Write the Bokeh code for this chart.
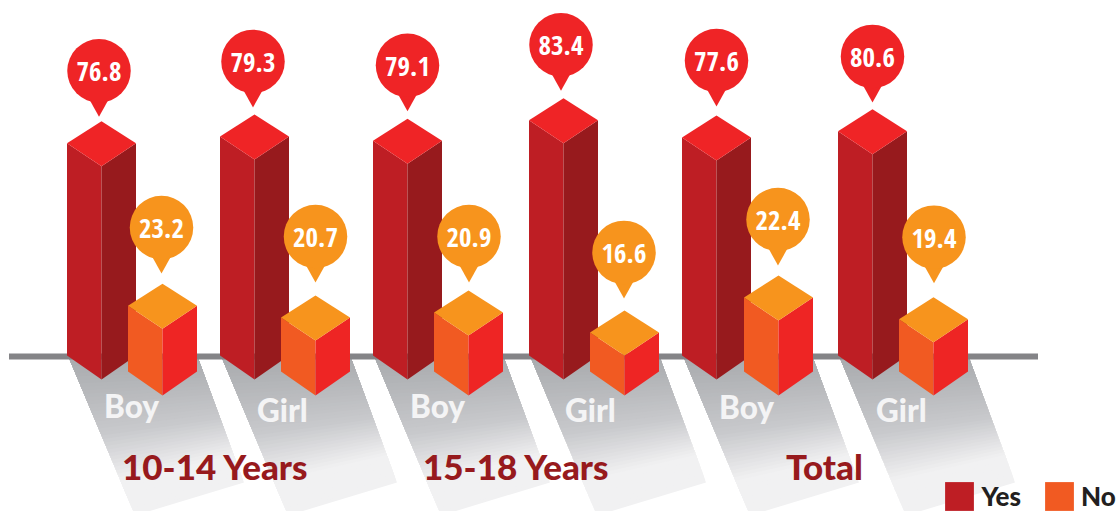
from bokeh.plotting import figure
from bokeh.models import Legend, LegendItem
from bokeh.core.properties import value
from bokeh.embed import file_html
from bokeh.resources import INLINE

# ---- data ----
groups = ["10-14 Years", "15-18 Years", "Total"]
genders = ["Boy", "Girl", "Boy", "Girl", "Boy", "Girl"]
yes_values = [76.8, 79.3, 79.1, 83.4, 77.6, 80.6]
no_values = [23.2, 20.7, 20.9, 16.6, 22.4, 19.4]
# The artwork is not strictly to scale: heights as drawn in the same units.
yes_drawn = [76.6, 79.1, 77.5, 84.9, 78.7, 81.0]
no_drawn = [23.7, 19.5, 21.3, 14.1, 26.7, 18.9]

# ---- layout (image pixels) ----
W, H = 1118, 511
K = 2.77            # px per unit on the y scale
BASE = 355
yes_left = [67, 220, 373, 529, 682, 838]
no_left = [128, 281, 434, 590, 744, 899]
yes_bubble_dx = [-2.5, -1.5, 0, -2.5, 0, 0]
no_bubble_dx = [-1, 0, 0.5, -0.5, -0.5, 0.5]
yes_bubble_gap = [50.5, 53, 53.5, 53.5, 55, 52.7]
no_bubble_gap = [56.3, 59, 54, 58, 56, 60]
gender_x = [104, 257, 410, 565, 719, 876]
gender_base = [405, 409, 405, 409, 406, 409]
group_x = [122, 423, 786]
GROUP_BASE = 465
BAR_W = 69
CONDENSED = "'Liberation Sans Narrow','Noto Sans Condensed','Open Sans Condensed','Roboto Condensed',Roboto"


def yv(px_from_image_top):
    return (BASE - px_from_image_top) / K


def off(px):
    return px / K


p = figure(width=W, height=H, x_range=(0.5, W + 0.5), y_range=(yv(H), yv(0)),
           output_backend="svg", toolbar_location=None, min_border=0,
           x_axis_type=None, y_axis_type=None, outline_line_color=None,
           background_fill_color="white", border_fill_color="white")
p.grid.visible = False


# ---- ground shadows: nested polygons, lightest first, make the gradient ----
def mix(a, b, t):
    return "#%02x%02x%02x" % tuple(round(a[i] + (b[i] - a[i]) * t) for i in range(3))


DARK, MID, LIGHT = (167, 169, 172), (200, 201, 204), (241, 241, 242)
STEPS = 46
for s in range(STEPS, 0, -1):
    t = s / STEPS
    if t < 0.5:
        col = mix(DARK, MID, t / 0.5)
    elif t < 0.8:
        col = mix(MID, LIGHT, (t - 0.5) / 0.3)
    else:
        col = mix(LIGHT, LIGHT, 0)
    for l in yes_left:
        ax, ay = l + 1, BASE
        bx, by = l + 130, BASE
        cx, cy = l + 177, 482
        dx, dy = l + 68, 515
        # slide the lower edge up the two long sides
        ex, ey = ax + (dx - ax) * t, ay + (dy - ay) * t
        fx, fy = bx + (cx - bx) * t, by + (cy - by) * t
        p.patch([ax, bx, fx, ex], [yv(ay), yv(by), yv(fy), yv(ey)],
                fill_color=col, line_color=None)

# ---- baseline ----
p.quad(left=[9], right=[1038], top=[yv(353)], bottom=[yv(359)],
       fill_color="#848487", line_color=None)


# ---- 3D bars ----
def bar(l, h, base_off, left_c, right_c, top_c):
    c, r = l + BAR_W / 2, l + BAR_W
    b = off(base_off)
    t = h + b
    front_top = t - off(23)
    apex = t + off(22)
    fb = b - off(24)
    lf = p.patch([l, c, c, l], [t, front_top, fb, b], fill_color=left_c, line_color=None)
    p.patch([c, r, r, c], [front_top, t, b, fb], fill_color=right_c, line_color=None)
    p.patch([l, c, r, c], [t, apex, t, front_top], fill_color=top_c, line_color=None)
    return lf, c, apex


def bubble(cx, cy_val, color, label):
    tip = cy_val - off(46)
    neck = cy_val - off(28)
    p.patch([cx - 10, cx + 10, cx], [neck, neck, tip], fill_color=color, line_color=None)
    p.scatter([cx], [cy_val], size=63.5, marker="circle", fill_color=color, line_color=None)
    p.text([cx], [cy_val - off(1)], text=[label], text_color="white",
           text_font=value(CONDENSED), text_font_style="bold",
           text_font_size="27px", text_align="center", text_baseline="middle")


yes_rend = no_rend = None
for i in range(6):
    yr, yc, ya = bar(yes_left[i], yes_drawn[i], 0, "#be1e24", "#971a1d", "#ef2426")
    nr, nc, na = bar(no_left[i], no_drawn[i], -16, "#f15a22", "#ee2524", "#f7941d")
    yes_rend = yes_rend or yr
    no_rend = no_rend or nr
    bubble(yc + yes_bubble_dx[i], ya + off(yes_bubble_gap[i]), "#ef2426", f"{yes_values[i]:.1f}")
    bubble(nc + no_bubble_dx[i], na + off(no_bubble_gap[i]), "#f7941d", f"{no_values[i]:.1f}")
    p.text([gender_x[i]], [yv(gender_base[i])], text=[genders[i]], text_color="#f4f4f5",
           text_font=value("'Lato Black',Lato"), text_font_style="bold", text_font_size="31.5px",
           text_align="left", text_baseline="alphabetic")

p.text(group_x, [yv(GROUP_BASE)] * 3, text=groups, text_color="#971a1d",
       text_font=value("'Lato Black',Lato"), text_font_style="bold", text_font_size="35px",
       text_align="left", text_baseline="alphabetic")

# ---- legend (Bokeh insets area swatches by 10% on each side) ----
legend = Legend(items=[LegendItem(label="Yes", renderers=[yes_rend]),
                       LegendItem(label="No", renderers=[no_rend])],
                orientation="horizontal", location=(941.4, -2.6),
                glyph_width=36, glyph_height=36, spacing=20, padding=0, margin=0,
                label_text_font="'Lato Black',Lato", label_text_font_style="bold",
                label_text_font_size="26px", label_text_color="#231f20",
                background_fill_alpha=0, border_line_color=None, label_standoff=4)
p.add_layout(legend)

open("out.html", "w").write(file_html(p, INLINE))
